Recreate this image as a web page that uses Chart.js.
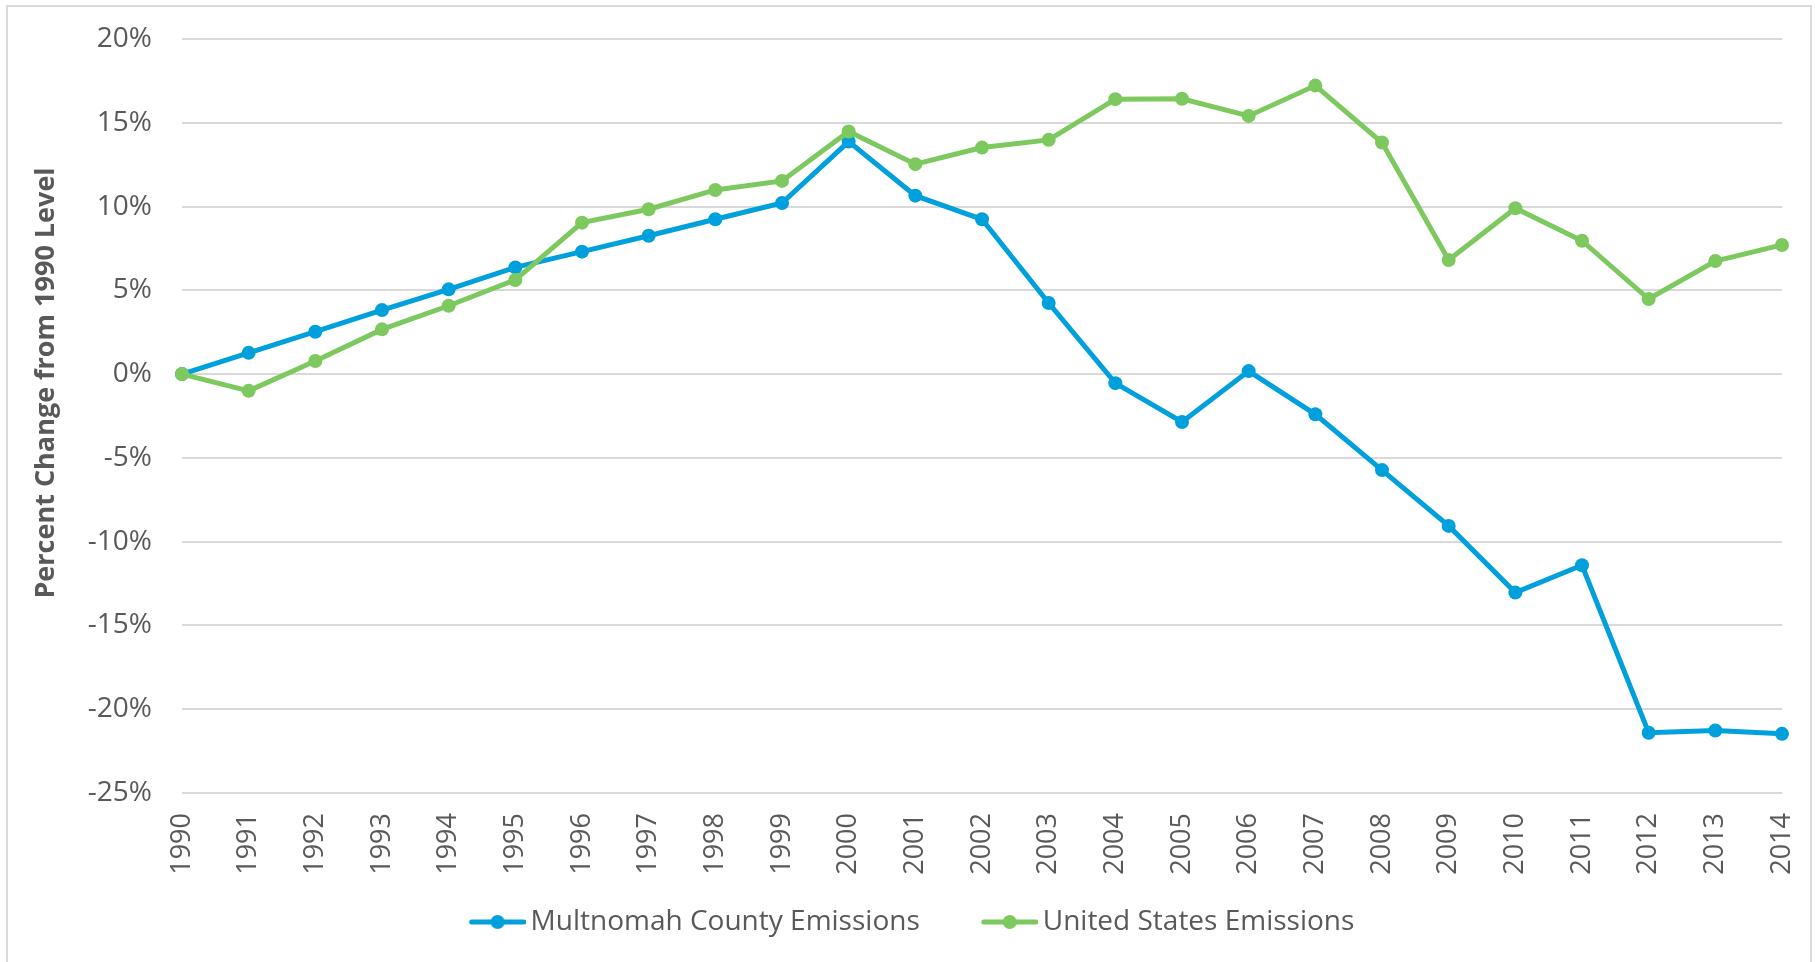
<!DOCTYPE html>
<html>
<head>
<meta charset="utf-8">
<script src="https://cdn.jsdelivr.net/npm/chart.js@4.4.1/dist/chart.umd.min.js"></script>
<style>
  html, body { margin: 0; padding: 0; background: #ffffff; }
  #wrap { position: absolute; left: 0; top: 0; width: 1815px; height: 962px; }
</style>
</head>
<body>
<div id="wrap"><canvas id="c" width="1815" height="962"></canvas></div>
<script>
const years = ["1990","1991","1992","1993","1994","1995","1996","1997","1998","1999","2000","2001","2002","2003","2004","2005","2006","2007","2008","2009","2010","2011","2012","2013","2014"];
const multnomahEmissions = [0, 1.27, 2.53, 3.82, 5.06, 6.37, 7.31, 8.26, 9.24, 10.21, 13.88, 10.65, 9.24, 4.24, -0.54, -2.86, 0.18, -2.4, -5.73, -9.06, -13.04, -11.41, -21.4, -21.27, -21.47];
const usEmissions = [0, -1.0, 0.78, 2.67, 4.08, 5.62, 9.04, 9.84, 10.99, 11.53, 14.48, 12.53, 13.52, 13.98, 16.41, 16.43, 15.41, 17.22, 13.82, 6.81, 9.90, 7.96, 4.48, 6.75, 7.71];
const seriesNames = ["Multnomah County Emissions", "United States Emissions"];
const yAxisTitle = "Percent Change from 1990 Level";
const yMin = -25, yMax = 20, yStep = 5;

const BLUE = "#00A0DC";
const GREEN = "#7DC95F";
const TEXT = "#595959";
const GRID = "#D9D9D9";
const FONT = "'Open Sans', 'Liberation Sans', sans-serif";

// legend marker: line with a dot, placed at the right part of a wider transparent image
function markerCanvas(color) {
  const c = document.createElement("canvas");
  c.width = 107; c.height = 16;
  const g = c.getContext("2d");
  g.strokeStyle = color; g.lineWidth = 5; g.lineCap = "round";
  g.beginPath(); g.moveTo(53, 8); g.lineTo(105, 8); g.stroke();
  g.fillStyle = color;
  g.beginPath(); g.arc(79, 8, 7, 0, Math.PI * 2); g.fill();
  return c;
}
const markers = [markerCanvas(BLUE), markerCanvas(GREEN)];

const frameAndTitle = {
  id: "frameAndTitle",
  beforeDraw(chart) {
    const ctx = chart.ctx;
    ctx.save();
    ctx.fillStyle = "#ffffff";
    ctx.fillRect(0, 0, chart.width, chart.height);
    ctx.strokeStyle = "#D9D9D9";
    ctx.lineWidth = 2;
    ctx.strokeRect(7, 6, 1804, 970);
    ctx.restore();
  },
  afterDraw(chart) {
    const ctx = chart.ctx;
    ctx.save();
    ctx.translate(46, 383);
    ctx.rotate(-Math.PI / 2);
    ctx.font = "bold 27px " + FONT;
    ctx.fillStyle = TEXT;
    ctx.textAlign = "center";
    ctx.textBaseline = "middle";
    ctx.fillText(yAxisTitle, 0, 0);
    ctx.restore();
  }
};

new Chart(document.getElementById("c"), {
  type: "line",
  data: {
    labels: years,
    datasets: [
      {
        label: seriesNames[0], data: multnomahEmissions,
        borderColor: BLUE, backgroundColor: BLUE, pointBackgroundColor: BLUE,
        borderWidth: 5, pointRadius: 7, pointBorderWidth: 0, pointHoverRadius: 7,
        tension: 0, clip: false, order: 1
      },
      {
        label: seriesNames[1], data: usEmissions,
        borderColor: GREEN, backgroundColor: GREEN, pointBackgroundColor: GREEN,
        borderWidth: 5, pointRadius: 7, pointBorderWidth: 0, pointHoverRadius: 7,
        tension: 0, clip: false, order: 0
      }
    ]
  },
  options: {
    responsive: false,
    animation: false,
    devicePixelRatio: 1,
    layout: { padding: { left: 0, right: 33, top: 39, bottom: 16 } },
    plugins: {
      tooltip: { enabled: false },
      legend: {
        position: "bottom",
        labels: {
          usePointStyle: true,
          pointStyleWidth: 89,
          padding: 20,
          color: TEXT,
          font: { family: FONT, size: 28 },
          sort: (a, b) => a.datasetIndex - b.datasetIndex,
          generateLabels(chart) {
            return chart.data.datasets.map((ds, i) => ({
              text: ds.label, datasetIndex: i, pointStyle: markers[i],
              fillStyle: ds.borderColor, strokeStyle: ds.borderColor, lineWidth: 0,
              fontColor: TEXT, hidden: false
            }));
          }
        }
      }
    },
    scales: {
      x: {
        type: "category",
        offset: false,
        grid: { display: false, drawTicks: false },
        border: { display: false },
        ticks: {
          autoSkip: false, minRotation: 90, maxRotation: 90, padding: 20,
          color: TEXT, font: { family: FONT, size: 27 }
        },
        afterFit(scale) {
          scale.height = 95;
          scale.paddingLeft = 0; scale.paddingRight = 0;
        }
      },
      y: {
        min: yMin, max: yMax,
        grid: { color: GRID, lineWidth: 2, drawTicks: false },
        border: { display: false },
        ticks: {
          stepSize: yStep, padding: 30, color: TEXT,
          font: { family: FONT, size: 28 },
          callback: (v) => v + "%"
        },
        afterFit(scale) {
          scale.width = 182;
          scale.paddingTop = 0; scale.paddingBottom = 0;
        }
      }
    }
  },
  plugins: [frameAndTitle]
});
</script>
</body>
</html>
